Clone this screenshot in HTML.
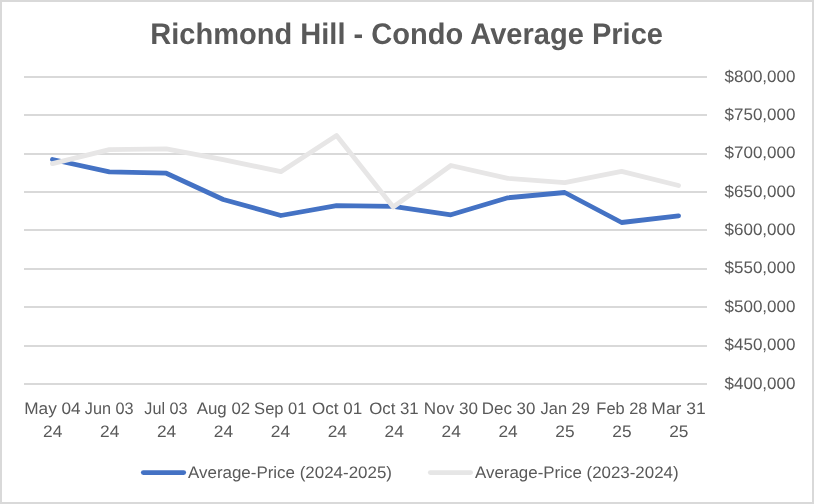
<!DOCTYPE html>
<html><head><meta charset="utf-8"><title>Richmond Hill - Condo Average Price</title>
<style>
html,body{margin:0;padding:0;background:#fff;}
body{width:814px;height:504px;overflow:hidden;}
svg{display:block;}
text{font-family:"Liberation Sans",sans-serif;fill:#595959;text-rendering:geometricPrecision;}
.t{font-weight:bold;font-size:29.8px;}
.a{font-size:16.6px;}
</style></head><body>
<svg width="814" height="504" viewBox="0 0 814 504">
<rect x="0" y="0" width="814" height="504" fill="#fff"/>
<rect x="1" y="1" width="812" height="502" fill="none" stroke="#d9d9d9" stroke-width="2"/>
<line x1="24" y1="77.00" x2="707" y2="77.00" stroke="#d9d9d9" stroke-width="2"/>
<line x1="24" y1="115.00" x2="707" y2="115.00" stroke="#d9d9d9" stroke-width="2"/>
<line x1="24" y1="154.00" x2="707" y2="154.00" stroke="#d9d9d9" stroke-width="2"/>
<line x1="24" y1="192.00" x2="707" y2="192.00" stroke="#d9d9d9" stroke-width="2"/>
<line x1="24" y1="230.00" x2="707" y2="230.00" stroke="#d9d9d9" stroke-width="2"/>
<line x1="24" y1="269.00" x2="707" y2="269.00" stroke="#d9d9d9" stroke-width="2"/>
<line x1="24" y1="307.00" x2="707" y2="307.00" stroke="#d9d9d9" stroke-width="2"/>
<line x1="24" y1="346.00" x2="707" y2="346.00" stroke="#d9d9d9" stroke-width="2"/>
<line x1="24" y1="384.00" x2="707" y2="384.00" stroke="#d9d9d9" stroke-width="2"/>
<g style="filter:grayscale(1)">
<text class="t" x="406.6" y="43.8" text-anchor="middle" textLength="512.8" lengthAdjust="spacingAndGlyphs">Richmond Hill - Condo Average Price</text>
<text class="a" x="724.5" y="81.60" textLength="71" lengthAdjust="spacingAndGlyphs">$800,000</text>
<text class="a" x="724.5" y="119.97" textLength="71" lengthAdjust="spacingAndGlyphs">$750,000</text>
<text class="a" x="724.5" y="158.35" textLength="71" lengthAdjust="spacingAndGlyphs">$700,000</text>
<text class="a" x="724.5" y="196.72" textLength="71" lengthAdjust="spacingAndGlyphs">$650,000</text>
<text class="a" x="724.5" y="235.10" textLength="71" lengthAdjust="spacingAndGlyphs">$600,000</text>
<text class="a" x="724.5" y="273.48" textLength="71" lengthAdjust="spacingAndGlyphs">$550,000</text>
<text class="a" x="724.5" y="311.85" textLength="71" lengthAdjust="spacingAndGlyphs">$500,000</text>
<text class="a" x="724.5" y="350.23" textLength="71" lengthAdjust="spacingAndGlyphs">$450,000</text>
<text class="a" x="724.5" y="388.60" textLength="71" lengthAdjust="spacingAndGlyphs">$400,000</text>
<text class="a" x="52.46" y="413.5" text-anchor="middle" textLength="56.5" lengthAdjust="spacingAndGlyphs">May 04</text>
<text class="a" x="52.76" y="436.5" text-anchor="middle" textLength="19.3" lengthAdjust="spacingAndGlyphs">24</text>
<text class="a" x="109.17" y="413.5" text-anchor="middle" textLength="48.7" lengthAdjust="spacingAndGlyphs">Jun 03</text>
<text class="a" x="109.67" y="436.5" text-anchor="middle" textLength="19.3" lengthAdjust="spacingAndGlyphs">24</text>
<text class="a" x="165.89" y="413.5" text-anchor="middle" textLength="43.2" lengthAdjust="spacingAndGlyphs">Jul 03</text>
<text class="a" x="166.59" y="436.5" text-anchor="middle" textLength="19.3" lengthAdjust="spacingAndGlyphs">24</text>
<text class="a" x="223.41" y="413.5" text-anchor="middle" textLength="53.5" lengthAdjust="spacingAndGlyphs">Aug 02</text>
<text class="a" x="223.51" y="436.5" text-anchor="middle" textLength="19.3" lengthAdjust="spacingAndGlyphs">24</text>
<text class="a" x="280.32" y="413.5" text-anchor="middle" textLength="52.4" lengthAdjust="spacingAndGlyphs">Sep 01</text>
<text class="a" x="280.43" y="436.5" text-anchor="middle" textLength="19.3" lengthAdjust="spacingAndGlyphs">24</text>
<text class="a" x="337.04" y="413.5" text-anchor="middle" textLength="50.2" lengthAdjust="spacingAndGlyphs">Oct 01</text>
<text class="a" x="337.34" y="436.5" text-anchor="middle" textLength="19.3" lengthAdjust="spacingAndGlyphs">24</text>
<text class="a" x="393.96" y="413.5" text-anchor="middle" textLength="49.5" lengthAdjust="spacingAndGlyphs">Oct 31</text>
<text class="a" x="394.26" y="436.5" text-anchor="middle" textLength="19.3" lengthAdjust="spacingAndGlyphs">24</text>
<text class="a" x="450.88" y="413.5" text-anchor="middle" textLength="54.1" lengthAdjust="spacingAndGlyphs">Nov 30</text>
<text class="a" x="451.18" y="436.5" text-anchor="middle" textLength="19.3" lengthAdjust="spacingAndGlyphs">24</text>
<text class="a" x="508.59" y="413.5" text-anchor="middle" textLength="53.5" lengthAdjust="spacingAndGlyphs">Dec 30</text>
<text class="a" x="508.09" y="436.5" text-anchor="middle" textLength="19.3" lengthAdjust="spacingAndGlyphs">24</text>
<text class="a" x="565.21" y="413.5" text-anchor="middle" textLength="49.3" lengthAdjust="spacingAndGlyphs">Jan 29</text>
<text class="a" x="565.01" y="436.5" text-anchor="middle" textLength="19.3" lengthAdjust="spacingAndGlyphs">25</text>
<text class="a" x="621.92" y="413.5" text-anchor="middle" textLength="51.1" lengthAdjust="spacingAndGlyphs">Feb 28</text>
<text class="a" x="621.92" y="436.5" text-anchor="middle" textLength="19.3" lengthAdjust="spacingAndGlyphs">25</text>
<text class="a" x="678.54" y="413.5" text-anchor="middle" textLength="54.3" lengthAdjust="spacingAndGlyphs">Mar 31</text>
<text class="a" x="678.84" y="436.5" text-anchor="middle" textLength="19.3" lengthAdjust="spacingAndGlyphs">25</text>
</g>
<path d="M52.46 159.50 L109.38 171.80 L166.29 173.20 L223.21 199.50 L280.88 215.50 L336.54 205.70 L393.21 206.40 L450.88 214.80 L507.79 197.80 L564.71 192.50 L621.62 222.50 L678.54 215.80" fill="none" stroke="#4472c4" stroke-width="4.8" stroke-linecap="round" stroke-linejoin="round"/>
<path d="M52.46 163.60 L109.38 149.60 L166.29 148.80 L223.21 159.60 L280.88 171.70 L336.54 135.60 L393.21 207.00 L450.88 165.50 L507.79 178.30 L564.71 182.60 L621.62 171.40 L678.54 185.50" fill="none" stroke="#e7e6e6" stroke-width="4.8" stroke-linecap="round" stroke-linejoin="round"/>
<line x1="143.3" y1="472.6" x2="183.7" y2="472.6" stroke="#4472c4" stroke-width="4.8" stroke-linecap="round"/>
<g style="filter:grayscale(1)">
<text class="a" x="188" y="478" textLength="204" lengthAdjust="spacingAndGlyphs">Average-Price (2024-2025)</text>
<line x1="430.3" y1="472.6" x2="470.6" y2="472.6" stroke="#e7e6e6" stroke-width="4.8" stroke-linecap="round"/>
<text class="a" x="475" y="478" textLength="203.6" lengthAdjust="spacingAndGlyphs">Average-Price (2023-2024)</text>
</g>
</svg>
</body></html>
